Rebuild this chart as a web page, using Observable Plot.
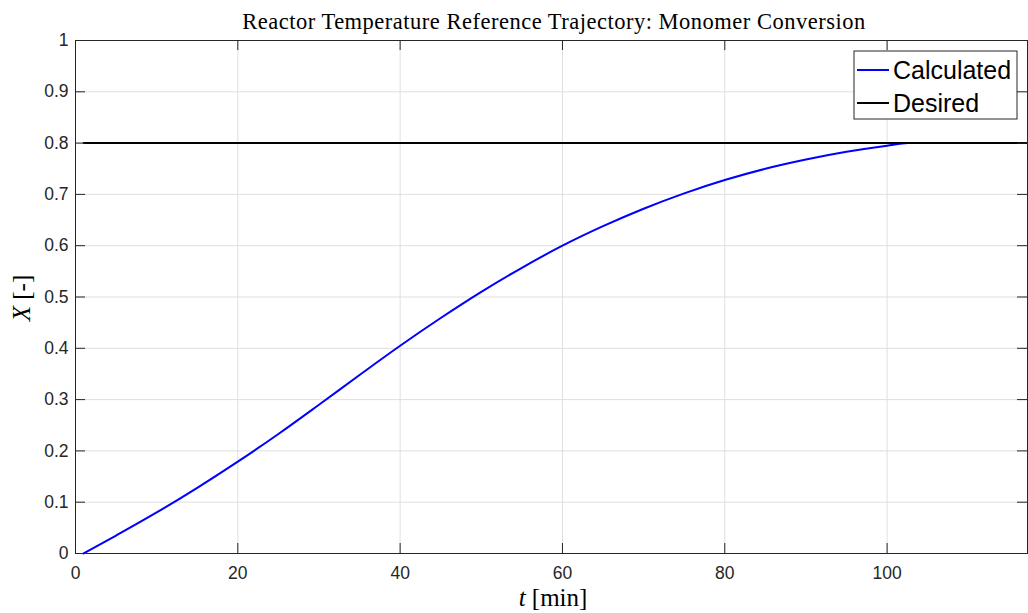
<!DOCTYPE html>
<html><head><meta charset="utf-8">
<script src="https://cdn.jsdelivr.net/npm/d3@7"></script>
<script src="https://cdn.jsdelivr.net/npm/@observablehq/plot@0.6"></script>
<style>body{margin:0;background:#fff;overflow:hidden} #chart{width:1028px;height:613px}</style>
</head><body><div id="chart"></div>
<script>
const tMinutes = [1,5,10,15,20,25,30,35,40,45,50,55,60,65,70,75,80,85,90,95,100,102.6,117.3];
const calculatedX = [0,0.035,0.080,0.128,0.179,0.233,0.290,0.348,0.405,0.459,0.510,0.557,0.600,0.638,0.672,0.702,0.728,0.750,0.768,0.783,0.795,0.800,0.800];
const desiredT = [1,117.3];
const desiredX = [0.8,0.8];
const xTicks = [0,20,40,60,80,100];
const yTicks = [0,0.1,0.2,0.3,0.4,0.5,0.6,0.7,0.8,0.9,1];
const seriesNames = ["Calculated","Desired"];
const seriesColors = ["#0000ff","#000000"];
const titleText = "Reactor Temperature Reference Trajectory: Monomer Conversion";

const calcData = tMinutes.map((t,i)=>({t, x: calculatedX[i]}));
const desData = desiredT.map((t,i)=>({t, x: desiredX[i]}));

const W = 1028, H = 613, mL = 75, mR = 1, mT = 40, mB = 60;
const fw = W - mL - mR, fh = H - mT - mB;
const axisColor = "#262626";
const tickLen = 10;

const plot = Plot.plot({
  width: W, height: H,
  marginLeft: mL, marginRight: mR, marginTop: mT, marginBottom: mB,
  style: {fontFamily: "'Liberation Sans', Arial, sans-serif", fontSize: "17.5px", color: axisColor, background: "#fff"},
  x: {domain: [0, 117.3], ticks: xTicks, label: null},
  y: {domain: [0, 1], ticks: yTicks, label: null},
  marks: [
    Plot.gridX(xTicks, {stroke: "#dfdfdf", strokeOpacity: 1}),
    Plot.gridY(yTicks, {stroke: "#dfdfdf", strokeOpacity: 1}),
    Plot.axisX(xTicks, {tickSize: 0, tickPadding: 13, fill: axisColor, fontSize: 17.5}),
    Plot.axisY(yTicks, {tickSize: 0, tickPadding: 7, fill: axisColor, fontSize: 17.5, tickFormat: d => d3.format("~g")(d)}),
    Plot.line(calcData, {x: "t", y: "x", stroke: seriesColors[0], strokeWidth: 2, curve: "monotone-x"}),
    Plot.line(desData, {x: "t", y: "x", stroke: seriesColors[1], strokeWidth: 2}),
    Plot.ruleX(xTicks, {stroke: axisColor, insetTop: fh - tickLen}),
    Plot.ruleX(xTicks, {stroke: axisColor, insetBottom: fh - tickLen}),
    Plot.ruleY(yTicks, {stroke: axisColor, insetRight: fw - tickLen}),
    Plot.ruleY(yTicks, {stroke: axisColor, insetLeft: fw - tickLen}),
    Plot.frame({stroke: axisColor, strokeWidth: 1})
  ]
});
document.getElementById("chart").appendChild(plot);

const svg = d3.select(plot);
const serif = "'Liberation Serif', 'DejaVu Serif', serif";
// title
svg.append("text").attr("x", mL + fw/2 + 3).attr("y", 29)
  .attr("text-anchor","middle").attr("font-family", serif).attr("font-size", 22.5)
  .attr("letter-spacing", 0.5)
  .attr("fill", "#000").text(titleText);
// x label
const xl = svg.append("text").attr("x", mL + fw/2 + 2).attr("y", 606)
  .attr("text-anchor","middle").attr("font-family", serif).attr("font-size", 25).attr("fill","#000");
xl.append("tspan").attr("font-style","italic").text("t");
xl.append("tspan").text(" [min]");
// y label
const yl = svg.append("text").attr("transform", "translate(30,298) rotate(-90)")
  .attr("text-anchor","middle").attr("font-family", serif).attr("font-size", 25).attr("fill","#000");
yl.append("tspan").attr("font-style","italic").text("X");
yl.append("tspan").text(" [-]");
// legend
const lgW = 163, lgH = 68;
const lg = svg.append("g").attr("transform", `translate(${W - mR - 10 - lgW},${mT + 11})`);
lg.append("rect").attr("width", lgW).attr("height", lgH).attr("fill","#fff").attr("stroke", axisColor).attr("stroke-width", 1);
seriesNames.forEach((name, i) => {
  const cy = 19 + i * 33;
  lg.append("line").attr("x1", 3).attr("x2", 35).attr("y1", cy).attr("y2", cy)
    .attr("stroke", seriesColors[i]).attr("stroke-width", 2);
  lg.append("text").attr("x", 39).attr("y", cy).attr("dy", "0.35em")
    .attr("text-anchor", "start")
    .attr("font-family", "'Liberation Sans', Arial, sans-serif").attr("font-size", 25)
    .attr("fill", "#000").text(name);
});
</script>
</body></html>
